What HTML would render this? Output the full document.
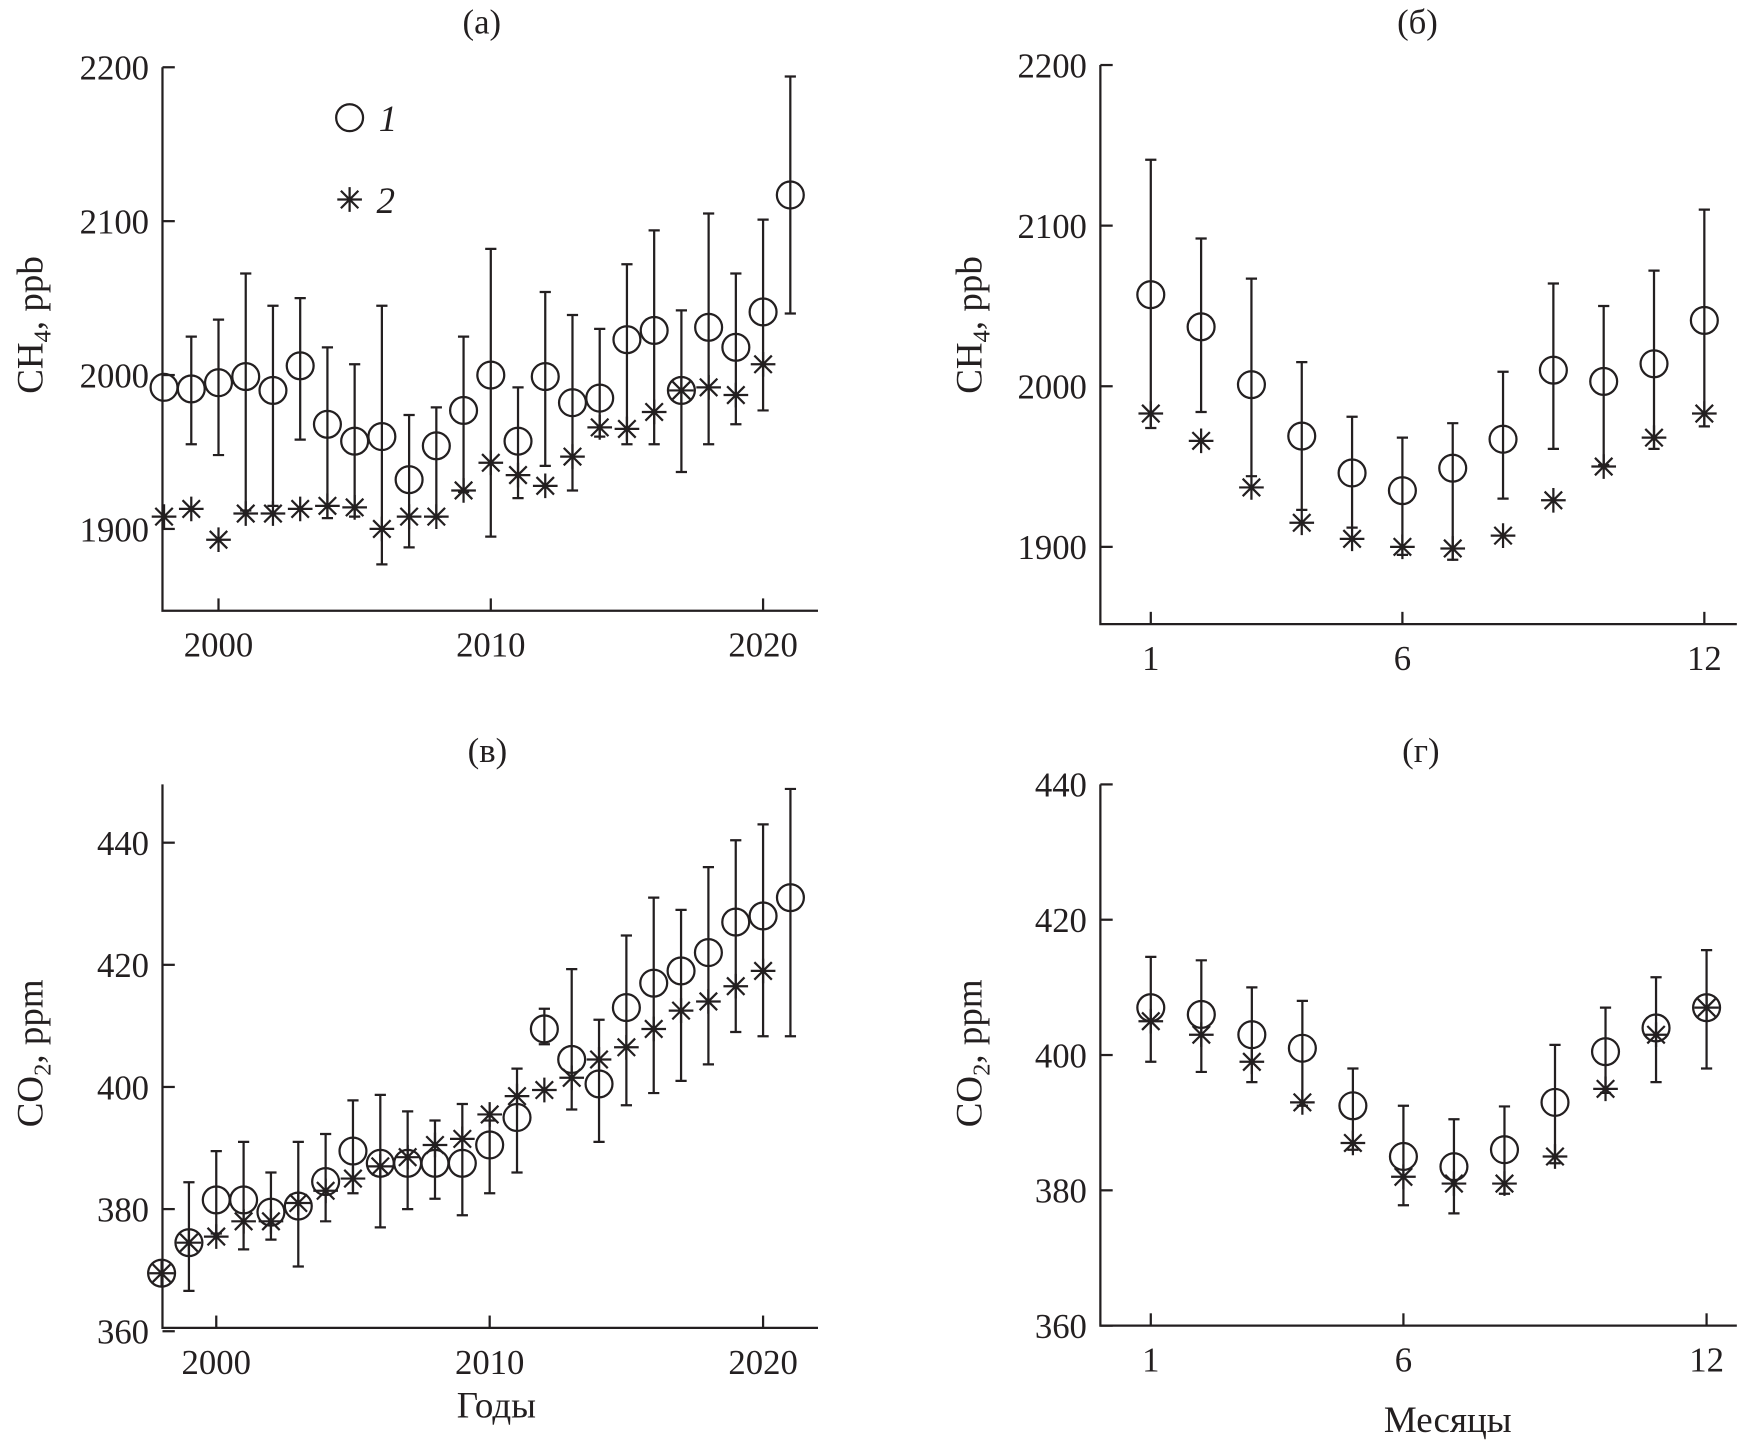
<!DOCTYPE html>
<html><head><meta charset="utf-8"><style>
html,body{margin:0;padding:0;background:#fff;}
svg{display:block;}
text{font-family:"Liberation Serif","Noto Serif CJK SC",serif;fill:#231f20;}
</style></head><body>
<svg id="fig" width="1757" height="1444" viewBox="0 0 1568 1288.6" xmlns="http://www.w3.org/2000/svg"></svg>
<script>
// Panel a: CH4 by year
const yearsA = [1998,1999,2000,2001,2002,2003,2004,2005,2006,2007,2008,2009,2010,2011,2012,2013,2014,2015,2016,2017,2018,2019,2020,2021];
const ch4Site = [1992,1991,1995,1999,1990,2006,1968,1957,1960,1932,1954,1977,2000,1957,1999,1982,1985,2023,2029,1990,2031,2018,2041,2117];
const ch4ErrHi = [null,2025,2036,2066,2045,2050,2018,2007,2045,1974,1979,2025,2082,1992,2054,2039,2030,2072,2094,2042,2105,2066,2101,2194];
const ch4ErrLo = [null,1955,1948,1912,1915,1958,1907,1908,1877,1888,1908,1924,1895,1920,1941,1925,1960,1955,1955,1937,1955,1968,1977,2040];
const ch4Bg = [1908,1913,1893,1910,1910,1913,1915,1914,1900,1908,1908,1925,1943,1935,1928,1947,1966,1965,1976,1990,1992,1987,2007];
// Panel b: CH4 by month
const months = [1,2,3,4,5,6,7,8,9,10,11,12];
const ch4mSite = [2057,2037,2001,1969,1946,1935,1949,1967,2010,2003,2014,2041];
const ch4mErrHi = [2141,2092,2067,2015,1981,1968,1977,2009,2064,2050,2072,2110];
const ch4mErrLo = [1974,1984,1944,1923,1912,1895,1892,1930,1961,1951,1961,1975];
const ch4mBg = [1983,1966,1937,1915,1905,1900,1899,1907,1929,1950,1968,1983];
// Panel c: CO2 by year
const co2Site = [369.5,374.5,381.5,381.5,379.5,380.5,384.5,389.5,387.5,387.5,387.5,387.5,390.5,395,409.5,404.5,400.5,413,417,419,422,427,428,431];
const co2ErrHi = [null,384.4,389.5,391,386,391,392.3,397.8,398.7,396,394.5,397.2,394.5,403,412.8,419.3,411,424.8,431,429,436,440.4,443,448.8];
const co2ErrLo = [null,366.6,376,373.4,375,370.6,378,382.6,377,380,381.7,379,382.6,386,407,396.3,391,397,399,401,403.7,409,408.3,408.3];
const co2Bg = [369.5,374.5,375.5,378,378,381,383,385,387,388.5,390.5,391.5,395.5,398.5,399.5,401.5,404.5,406.5,409.5,412.5,414,416.5,419];
// Panel d: CO2 by month
const co2mSite = [407,406,403,401,392.5,385,383.5,386,393,400.5,404,407];
const co2mErrHi = [414.5,414,410,408,398,392.5,390.5,392.4,401.5,407,411.5,415.5];
const co2mErrLo = [399,397.5,396,392.5,386,377.8,376.6,379.5,384,394.4,396,398];
const co2mBg = [405,403,399,393,387,382,381,381,385,395,403,407];

const yTicksA = [1900,2000,2100,2200];
const yTicksC = [360,380,400,420,440];
const yTicksD = [360,380,400,420,440];
const xTicksYears = [2000,2010,2020];
const xTicksMonths = [1,6,12];

const NS = "http://www.w3.org/2000/svg";
const svg = document.getElementById('fig');
function el(tag, attrs, parent){
  const e = document.createElementNS(NS, tag);
  for (const k in attrs) e.setAttribute(k, attrs[k]);
  (parent||svg).appendChild(e);
  return e;
}
function lin(d0,d1,r0,r1){return v=>r0+(v-d0)*(r1-r0)/(d1-d0);}
function star(x,y){const r=11,d=7.8;return `M${x},${y-r}V${y+r}M${x-r},${y}H${x+r}M${x-d},${y-d}L${x+d},${y+d}M${x-d},${y+d}L${x+d},${y-d}`;}

function panel(cfg){
  const g = el('g',{});
  
  
  const x = lin(cfg.xd[0],cfg.xd[1],cfg.px[0],cfg.px[1]);
  const y = lin(cfg.yd[0],cfg.yd[1],cfg.py[0],cfg.py[1]);
  const st = {stroke:'#231f20','stroke-width':2,fill:'none'};
  const L = cfg.left;
  const ax = el('path',Object.assign({d:`M${L},${cfg.top}V${cfg.bottom}H${cfg.right}`},st),g);
  
  
  cfg.yTicks.forEach(t=>{
    const yy=y(t);
    el('line',Object.assign({x1:L,x2:L+11,y1:yy,y2:yy},st),g);
    const tx = el('text',{x:L-12,y:yy+11,'font-size':31,'text-anchor':'end'},g);
    tx.textContent=t;
    
    
  });
  cfg.xTicks.forEach(t=>{
    const xx=x(t);
    el('line',Object.assign({x1:xx,x2:xx,y1:cfg.bottom,y2:cfg.bottom-11},st),g);
    const tx = el('text',{x:xx,y:cfg.bottom+41,'font-size':31,'text-anchor':'middle'},g);
    tx.textContent=t;
    
    
  });
  const ti = el('text',{x:cfg.titleX,y:cfg.titleY,'font-size':31,'text-anchor':'middle'},g);
  ti.textContent=cfg.title;
  
  
  const yl = el('text',{transform:`translate(${cfg.ylabX},${cfg.ylabY}) rotate(-90)`,'font-size':33,'text-anchor':'middle'},g);
  yl.innerHTML = cfg.ylab;
  
  
  if (cfg.xlab){
    const xl = el('text',{x:cfg.xlabX,y:cfg.xlabY,'font-size':33,'text-anchor':'middle'},g);
    xl.textContent=cfg.xlab;
    
    
  }
  cfg.xs.forEach((xv,i)=>{
    const hi=cfg.hi[i], lo=cfg.lo[i];
    if(hi==null) return;
    const xx=x(xv);
    const b = el('path',Object.assign({d:`M${xx},${y(hi)}V${y(lo)}M${xx-5},${y(hi)}h10M${xx-5},${y(lo)}h10`},st),g);
    
    
  });
  cfg.xs.forEach((xv,i)=>{
    const c = el('circle',Object.assign({cx:x(xv),cy:y(cfg.site[i]),r:12},st),g);
    
    
  });
  cfg.bg.forEach((v,i)=>{
    const s = el('path',Object.assign({d:star(x(cfg.xs[i]),y(v))},st),g);
    
    
  });
}
const ch4lab='CH<tspan font-size="22" dy="7">4</tspan><tspan dy="-7">, ppb</tspan>';
const co2lab='CO<tspan font-size="22" dy="7">2</tspan><tspan dy="-7">, ppm</tspan>';

panel({name:'panel-a-ch4-years',left:145,xd:[2000,2020],px:[195,681],yd:[1900,2200],py:[472,60],top:60,bottom:545,right:730,
  yTicks:yTicksA,xTicks:xTicksYears,title:'(а)',titleX:430,titleY:30,ylab:ch4lab,ylabX:38,ylabY:290,
  xs:yearsA,site:ch4Site,hi:ch4ErrHi,lo:ch4ErrLo,bg:ch4Bg});
panel({name:'panel-b-ch4-months',left:982,xd:[1,12],px:[1027,1521],yd:[1900,2200],py:[488,58],top:58,bottom:557,right:1550,
  yTicks:yTicksA,xTicks:xTicksMonths,title:'(б)',titleX:1265,titleY:30,ylab:ch4lab,ylabX:876,ylabY:290,
  xs:months,site:ch4mSite,hi:ch4mErrHi,lo:ch4mErrLo,bg:ch4mBg});
panel({name:'panel-c-co2-years',left:145,xd:[2000,2020],px:[193,681],yd:[380,440],py:[1079,752],top:700,bottom:1185,right:730,
  yTicks:yTicksC,xTicks:xTicksYears,title:'(в)',titleX:435,titleY:680,ylab:co2lab,ylabX:38,ylabY:940,
  xs:yearsA,site:co2Site,hi:co2ErrHi,lo:co2ErrLo,bg:co2Bg,xlab:'Годы',xlabX:443,xlabY:1265});
panel({name:'panel-d-co2-months',left:982,xd:[1,12],px:[1027,1523],yd:[360,440],py:[1183,700],top:700,bottom:1183,right:1550,
  yTicks:yTicksD,xTicks:xTicksMonths,title:'(г)',titleX:1268,titleY:680,ylab:co2lab,ylabX:876,ylabY:940,
  xs:months,site:co2mSite,hi:co2mErrHi,lo:co2mErrLo,bg:co2mBg,xlab:'Месяцы',xlabX:1292,xlabY:1278});

const lg = el('g',{});


const lc = el('circle',{cx:312,cy:105,r:12,fill:'none',stroke:'#231f20','stroke-width':2},lg);


const lt1 = el('text',{x:338,y:117,'font-size':33,'font-style':'italic'},lg);
lt1.textContent='1';


const ls = el('path',{d:star(312,178),fill:'none',stroke:'#231f20','stroke-width':2},lg);


const lt2 = el('text',{x:336,y:190,'font-size':33,'font-style':'italic'},lg);
lt2.textContent='2';


</script>
</body></html>
